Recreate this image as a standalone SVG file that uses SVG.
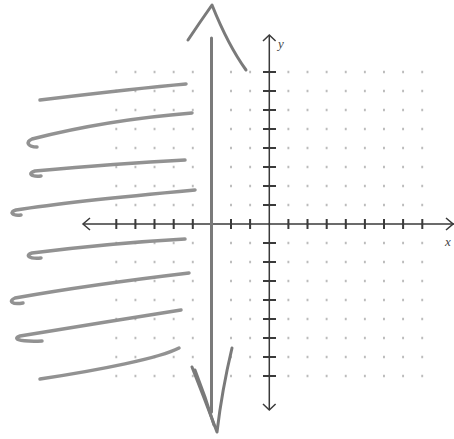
<svg xmlns="http://www.w3.org/2000/svg" width="454" height="439" viewBox="0 0 454 439">
  <style>
    .axis { stroke: #3a3a3a; stroke-width: 1.5; fill: none; }
    .tick { stroke: #3a3a3a; stroke-width: 2; fill: none; }
    .shade { stroke: #8c8c8c; stroke-width: 3.5; fill: none; stroke-linecap: round; stroke-linejoin: round; opacity: 0.95; }
    .bound { stroke: #7a7a7a; stroke-width: 3; fill: none; stroke-linecap: round; stroke-linejoin: round; }
    .lbl { font-family: "Liberation Serif", serif; font-style: italic; font-size: 13px; fill: #444; }
  </style>
  <defs>
    <pattern id="dots" patternUnits="userSpaceOnUse" x="106.74" y="62.5" width="19.12" height="19">
      <circle cx="9.56" cy="9.5" r="0.9" fill="#8a8a8a"/>
    </pattern>
  </defs>
  <rect width="454" height="439" fill="#ffffff"/>

  <g id="grid">
    <rect x="106.74" y="62.5" width="325.04" height="323" fill="url(#dots)"/>
  </g>

  <g id="shading">
    <path class="shade" d="M186,84 C140,88 90,94 40,100"/>
    <path class="shade" d="M192,113 C130,118 75,128 32,139 C25,142 28,147 37,147"/>
    <path class="shade" d="M185,160 C130,163 80,167 35,171 C28,173 30,177 41,176"/>
    <path class="shade" d="M195,190 C130,196 60,203 16,210 C9,212 12,216 21,215"/>
    <path class="shade" d="M185,239 C130,242 80,247 32,253 C25,255 28,259 41,258"/>
    <path class="shade" d="M189,273 C130,280 60,290 15,298 C8,301 12,305 23,303"/>
    <path class="shade" d="M181,310 C130,318 70,328 20,336 C13,338 16,342 42,341"/>
    <path class="shade" d="M179,348 C160,358 100,370 40,379"/>
  </g>

  <g id="axes">
    <line class="axis" x1="83" y1="224" x2="454" y2="224"/>
    <path class="axis" d="M90,218 L83,224 L90,230"/>
    <path class="axis" d="M446,218 L453,224 L446,230"/>
    <line class="axis" x1="269.3" y1="35" x2="269.3" y2="410"/>
    <path class="axis" d="M263,41 L269.3,35 L275.6,41"/>
    <path class="axis" d="M263,404 L269.3,410 L275.6,404"/>
    <path class="tick" d="M116.3,219V229 M135.4,219V229 M154.5,219V229 M173.7,219V229 M192.8,219V229 M211.9,219V229 M231,219V229 M250.1,219V229 M288.4,219V229 M307.5,219V229 M326.7,219V229 M345.8,219V229 M364.9,219V229 M384,219V229 M403.1,219V229 M422.3,219V229"/>
    <path class="tick" d="M263,72H276 M263,91H276 M263,110H276 M263,129H276 M263,148H276 M263,167H276 M263,186H276 M263,205H276 M263,243H276 M263,262H276 M263,281H276 M263,300H276 M263,319H276 M263,338H276 M263,357H276 M263,376H276"/>
    <text class="lbl" x="278" y="48">y</text>
    <text class="lbl" x="445" y="246">x</text>
  </g>

  <g id="boundary">
    <path class="bound" d="M211.5,38 L211.5,412"/>
    <path class="bound" d="M188,40 Q200,22 212,5 Q228,45 246,70"/>
    <path class="bound" d="M192,367 Q205,400 217,432 Q222,390 232,348"/>
    <path class="bound" d="M195,370 Q206,398 214,425" stroke-width="1.5"/>
  </g>
</svg>
